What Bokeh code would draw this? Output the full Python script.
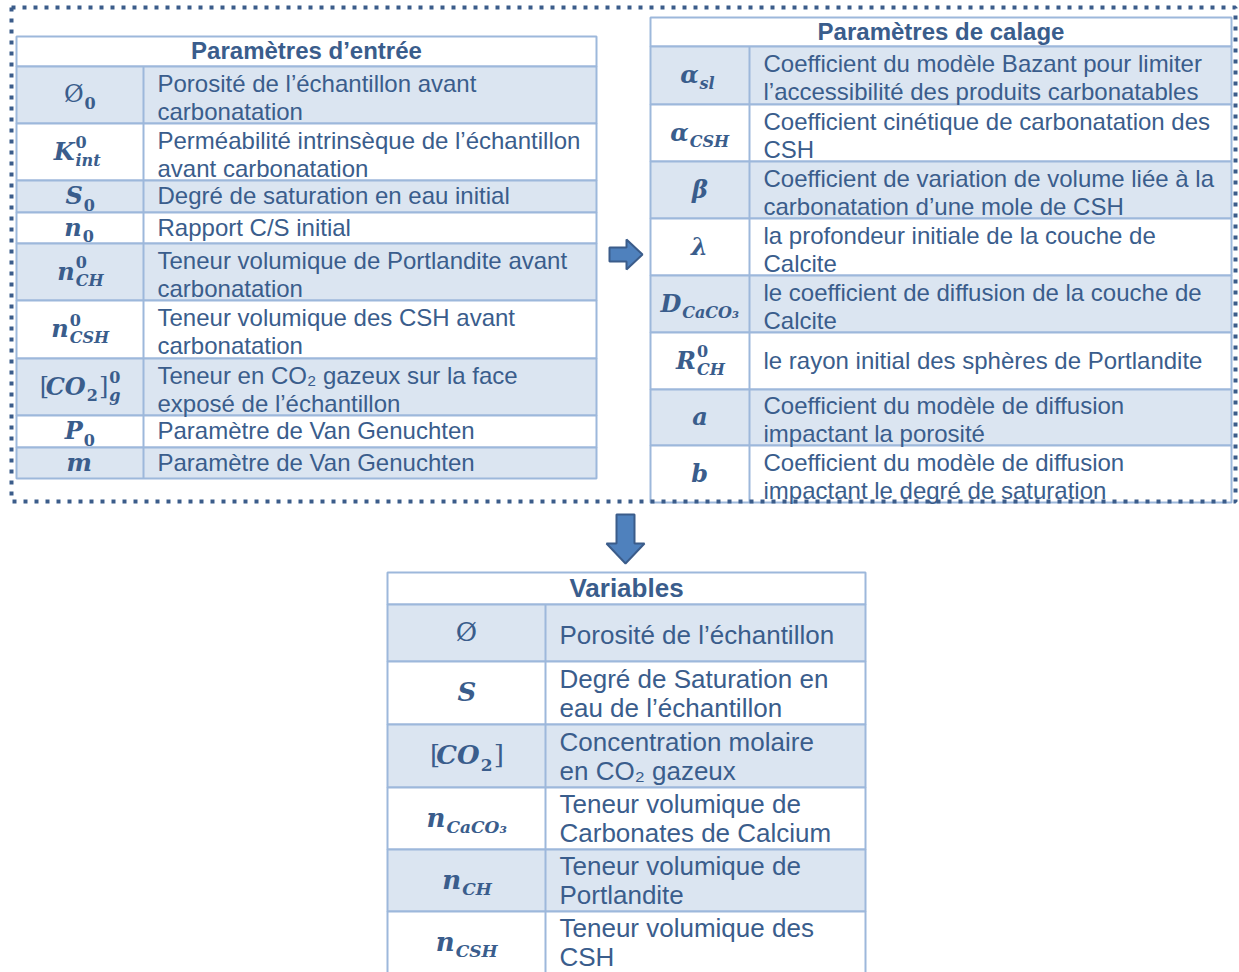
from bokeh.plotting import figure
from bokeh.models import Range1d
from bokeh.core.properties import value
from bokeh.embed import file_html
from bokeh.resources import INLINE

# ---------------- data ----------------
left_title = "Paramètres d’entrée"
left_symbols = [
    [("Ø", "0", "")],
    [("K", "int", "0")],
    [("S", "0", "")],
    [("n", "0", "")],
    [("n", "CH", "0")],
    [("n", "CSH", "0")],
    [("[", "", ""), ("CO", "2", ""), ("]", "g", "0")],
    [("P", "0", "")],
    [("m", "", "")],
]
left_desc = [
    "Porosité de l’échantillon avant\ncarbonatation",
    "Perméabilité intrinsèque de l’échantillon\navant carbonatation",
    "Degré de saturation en eau initial",
    "Rapport C/S initial",
    "Teneur volumique de Portlandite avant\ncarbonatation",
    "Teneur volumique des CSH avant\ncarbonatation",
    "Teneur en CO₂ gazeux sur la face\nexposé de l’échantillon",
    "Paramètre de Van Genuchten",
    "Paramètre de Van Genuchten",
]

right_title = "Paramètres de calage"
right_symbols = [
    [("α", "sl", "")],
    [("α", "CSH", "")],
    [("β", "", "")],
    [("λ", "", "")],
    [("D", "CaCO₃", "")],
    [("R", "CH", "0")],
    [("a", "", "")],
    [("b", "", "")],
]
right_desc = [
    "Coefficient du modèle Bazant pour limiter\nl’accessibilité des produits carbonatables",
    "Coefficient cinétique de carbonatation des\nCSH",
    "Coefficient de variation de volume liée à la\ncarbonatation d’une mole de CSH",
    "la profondeur initiale de la couche de\nCalcite",
    "le coefficient de diffusion de la couche de\nCalcite",
    "le rayon initial des sphères de Portlandite",
    "Coefficient du modèle de diffusion\nimpactant la porosité",
    "Coefficient du modèle de diffusion\nimpactant le degré de saturation",
]

var_title = "Variables"
var_symbols = [
    [("Ø", "", "")],
    [("S", "", "")],
    [("[", "", ""), ("CO", "2", ""), ("]", "", "")],
    [("n", "CaCO₃", "")],
    [("n", "CH", "")],
    [("n", "CSH", "")],
]
var_desc = [
    "Porosité de l’échantillon",
    "Degré de Saturation en\neau de l’échantillon",
    "Concentration molaire\nen CO₂ gazeux",
    "Teneur volumique de\nCarbonates de Calcium",
    "Teneur volumique de\nPortlandite",
    "Teneur volumique des\nCSH",
]

# ---------------- layout / style ----------------
W, H = 1239, 972
TEXT = "#3A5D8C"
FILL = "#DBE5F1"
GRID = "#9DB8DB"
FRAME = "#3B5C8A"
ARROW_FILL = "#4F81BD"
SANS = "Liberation Sans"
SERIF = "DejaVu Serif"

left_geom = dict(x0=16, xd=143, x1=596, y0=36, head=30,
                 rows=[57, 57, 32, 31, 57, 58, 57, 32, 31], fs=24, sym=24,
                 off1=-1, off2=2, lh=28)
right_geom = dict(x0=650, xd=749, x1=1231, y0=17, head=29,
                  rows=[58, 57, 57, 57, 57, 57, 56, 57], fs=24, sym=24,
                  off1=-1, off2=2, lh=28)
var_geom = dict(x0=387, xd=545, x1=865, y0=572, head=32,
                rows=[57, 63, 63, 62, 62, 62], fs=26, sym=26,
                off1=2, off2=0, lh=29)
frame_box = dict(x0=11, x1=1235, y0=7, y1=501)

p = figure(width=W, height=H, x_range=Range1d(0, W), y_range=Range1d(H, 0),
           output_backend="svg", toolbar_location=None, min_border=0)
p.axis.visible = False
p.grid.visible = False
p.outline_line_color = None
p.background_fill_color = "white"
p.border_fill_color = "white"


def cw(ch):
    if ch in "[]()":
        return 0.42
    if ch in "₂₃":
        return 0.42
    if ch == "Ø":
        return 0.82
    if ch.isdigit():
        return 0.66
    if ch.isupper():
        return 0.76
    if ch in "il":
        return 0.38
    if ch == "m":
        return 1.0
    return 0.66


def est(s, fs):
    return sum(cw(c) for c in s) * fs


def put(x, y, s, size, font=SANS, style="normal", align="left", baseline="middle"):
    p.text(x=[x], y=[y], text=[s], text_font=value(font), text_font_size=f"{size}px",
           text_font_style=style, text_align=align, text_baseline=baseline,
           text_color=TEXT)


def draw_table(title, syms, descs, g):
    x0, xd, x1, y0, head = g["x0"], g["xd"], g["x1"], g["y0"], g["head"]
    fs, sfs = g["fs"], g["sym"]
    scr = round(sfs * 0.66)
    tops, y = [], y0 + head
    for h in g["rows"]:
        tops.append(y)
        y += h
    bottom = y
    # header
    p.quad(left=[x0], right=[x1], top=[y0], bottom=[y0 + head],
           fill_color="white", line_color=GRID, line_width=2)
    # rows
    fills = [FILL if i % 2 == 0 else "white" for i in range(len(tops))]
    p.quad(left=[x0] * len(tops), right=[x1] * len(tops), top=tops,
           bottom=[t + h for t, h in zip(tops, g["rows"])],
           fill_color=fills, line_color=GRID, line_width=2)
    p.segment(x0=[xd], y0=[y0 + head], x1=[xd], y1=[bottom], line_color=GRID, line_width=2)
    # title
    put((x0 + x1) / 2, y0 + head / 2 - 1, title, fs, style="bold", align="center")
    lh = g["lh"]
    cx_sym = (x0 + xd) / 2
    for t, h, desc, sym in zip(tops, g["rows"], descs, syms):
        c = t + h / 2
        lines = desc.split("\n")
        n = len(lines)
        off = g["off1"] if n == 1 else g["off2"]
        for i, line in enumerate(lines):
            put(xd + 14, c + off + (i - (n - 1) / 2) * lh, line, fs)
        # symbol
        widths = []
        for base, sub, sup in sym:
            wb = est(base, sfs)
            ws = max(est(sub, scr), est(sup, scr))
            widths.append((wb, ws + (2 if ws else 0)))
        total = sum(a + b for a, b in widths)
        x = cx_sym - total / 2
        by = c - 1
        for (base, sub, sup), (wb, ws) in zip(sym, widths):
            join = x + wb
            bstyle = "normal" if base in "[]Ø" else "bold italic"
            put(join, by, base, sfs, font=SERIF, style=bstyle, align="right")
            if sub:
                put(join + 1, by + 0.38 * sfs, sub, scr, font=SERIF,
                    style="bold" if sub.isdigit() else "bold italic")
            if sup:
                put(join + 1, by - 0.36 * sfs, sup, scr, font=SERIF, style="bold")
            x = join + ws
    return bottom


draw_table(left_title, left_symbols, left_desc, left_geom)
draw_table(right_title, right_symbols, right_desc, right_geom)
draw_table(var_title, var_symbols, var_desc, var_geom)

# dotted frame
fb = frame_box
p.line(x=[fb["x0"], fb["x1"], fb["x1"], fb["x0"], fb["x0"]],
       y=[fb["y0"], fb["y0"], fb["y1"], fb["y1"], fb["y0"]],
       line_color=FRAME, line_width=4, line_dash="4 7", line_cap="butt")

# right arrow (between the two upper tables)
ax = (left_geom["x1"] + right_geom["x0"]) / 2 + 2
ay = (fb["y0"] + fb["y1"]) / 2
sh, hh, sl, hl = 7, 15, 16, 16
p.patch(x=[ax - sl, ax + 1, ax + 1, ax + 1 + hl, ax + 1, ax + 1, ax - sl],
        y=[ay - sh, ay - sh, ay - hh, ay, ay + hh, ay + sh, ay + sh],
        fill_color=ARROW_FILL, line_color=FRAME, line_width=2)

# down arrow (towards the variables table)
dx = (var_geom["x0"] + var_geom["x1"]) / 2 - 1
dy0 = fb["y1"] + 13
dy1 = var_geom["y0"] - 9
hw, hhw, hlen = 9, 19, 20
p.patch(x=[dx - hw, dx + hw, dx + hw, dx + hhw, dx, dx - hhw, dx - hw],
        y=[dy0, dy0, dy1 - hlen, dy1 - hlen, dy1, dy1 - hlen, dy1 - hlen],
        fill_color=ARROW_FILL, line_color=FRAME, line_width=2)

open("out.html", "w").write(file_html(p, INLINE))
